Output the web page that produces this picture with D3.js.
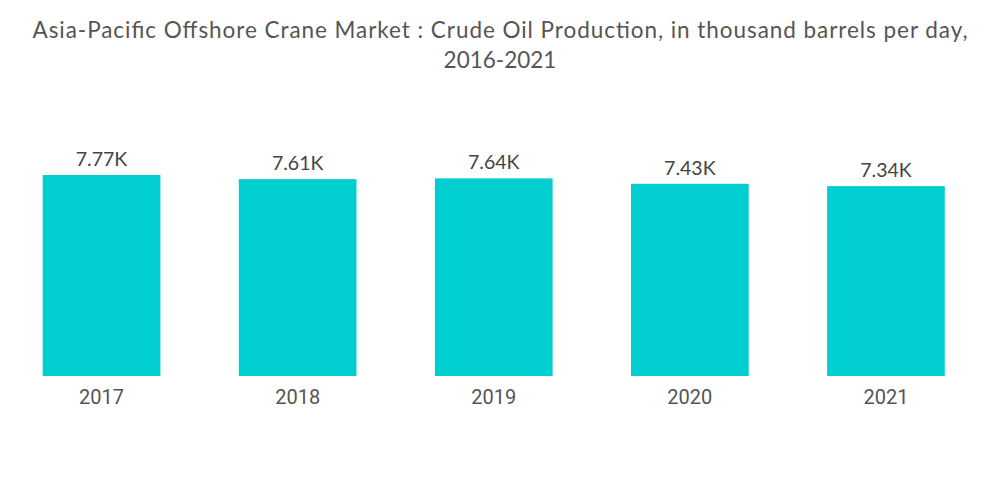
<!DOCTYPE html>
<html><head><meta charset="utf-8">
<script src="https://cdn.jsdelivr.net/npm/d3@7"></script>
<style>body{margin:0;background:#fff;} svg{display:block;}</style>
</head><body>
<svg id="c" width="1000" height="504"></svg>
<script>
const years = ["2017","2018","2019","2020","2021"];
const production = [7770, 7610, 7640, 7430, 7340];
const valueLabels = ["7.77K","7.61K","7.64K","7.43K","7.34K"];
const titleLines = ["Asia-Pacific Offshore Crane Market : Crude Oil Production, in thousand barrels per day,", "2016-2021"];

const svg = d3.select("#c");
const x = d3.scaleBand().domain(years).range([3.5, 984]).paddingInner(0.4).paddingOuter(0.2);
const y = d3.scaleLinear().domain([0, 7770]).range([376, 175]);

svg.append("g").selectAll("text").data(titleLines).join("text")
  .attr("x", 500).attr("y", (d,i)=>38 + i*30)
  .attr("text-anchor","middle")
  .attr("font-family","Lato, sans-serif").attr("font-size",22.5)
  .attr("fill","#555")
  .each(function(d,i){ if(i===0){ d3.select(this).attr("textLength",935).attr("lengthAdjust","spacing"); } })
  .text(d=>d);

svg.append("g").selectAll("rect").data(production).join("rect")
  .attr("x",(d,i)=>x(years[i])).attr("width",x.bandwidth())
  .attr("y",d=>y(d)).attr("height",d=>y(0)-y(d))
  .attr("fill","#00CED1");

svg.append("g").selectAll("text").data(production).join("text")
  .attr("x",(d,i)=>x(years[i])+x.bandwidth()/2).attr("y",d=>y(d)-9)
  .attr("text-anchor","middle").attr("font-family","Lato, sans-serif").attr("font-size",19.5)
  .attr("fill","#444").text((d,i)=>valueLabels[i]);

const ax = svg.append("g").attr("transform","translate(0,376)").call(d3.axisBottom(x).tickSize(0).tickPadding(14));
ax.select(".domain").remove();
ax.selectAll("text").attr("font-family","Roboto, sans-serif").attr("font-size",20).attr("fill","#555");
</script>
</body></html>
